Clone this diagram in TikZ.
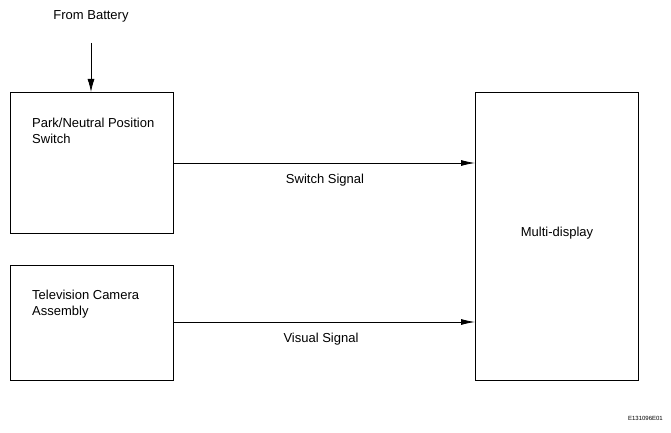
\documentclass[tikz,border=0pt]{standalone}
\usepackage{fontspec}
\setmainfont{Liberation Sans}
\usetikzlibrary{arrows.meta}
\begin{document}
\begin{tikzpicture}[x=1pt,y=-1pt,
  blockbox/.style={draw=black,line width=1.1pt,rectangle,inner sep=0pt,anchor=north west},
  lbl/.style={font=\fontsize{13}{16}\selectfont,inner sep=0pt},
  sig/.style={draw=black,line width=0.8pt,-{Latex[length=14pt,width=6pt]}}]
\useasboundingbox (0,0) rectangle (671,433);
\fill[white] (0,0) rectangle (671,433);
% boxes
\node[blockbox,minimum width=163pt,minimum height=141pt] (pnp) at (10,92) {};
\node[blockbox,minimum width=163pt,minimum height=115pt] (tca) at (10,265) {};
\node[blockbox,minimum width=163pt,minimum height=288pt] (md) at (475,92) {};
% box texts
\node[lbl,anchor=base west,align=left] (pnpt) at (32,143.5) {Park/Neutral Position\\Switch};
\node[lbl,anchor=base west,align=left] (tcat) at (32,315.5) {Television Camera\\Assembly};
\node[lbl] (mdt) at (557,233) {Multi-display};
% battery
\node[lbl,anchor=base] (bat) at (91,19.5) {From Battery};
\coordinate (batstart) at (91,43);
\draw[draw=black,line width=0.8pt,-{Latex[length=13pt,width=7pt]}] (batstart) -- (pnp.north west -| batstart);
% signals
\coordinate (s1) at (173,163);
\coordinate (s2) at (173,322);
\draw[sig] (s1) -- (s1 -| md.west);
\draw[sig] (s2) -- (s2 -| md.west);
\node[lbl,anchor=base] (swl) at (325,183.5) {Switch Signal};
\node[lbl,anchor=base] (vsl) at (321,342.5) {Visual Signal};
% code
\node[font=\fontsize{6}{7}\selectfont,inner sep=0pt,anchor=base east] (code) at (663,420) {E131096E01};
\end{tikzpicture}
\end{document}
